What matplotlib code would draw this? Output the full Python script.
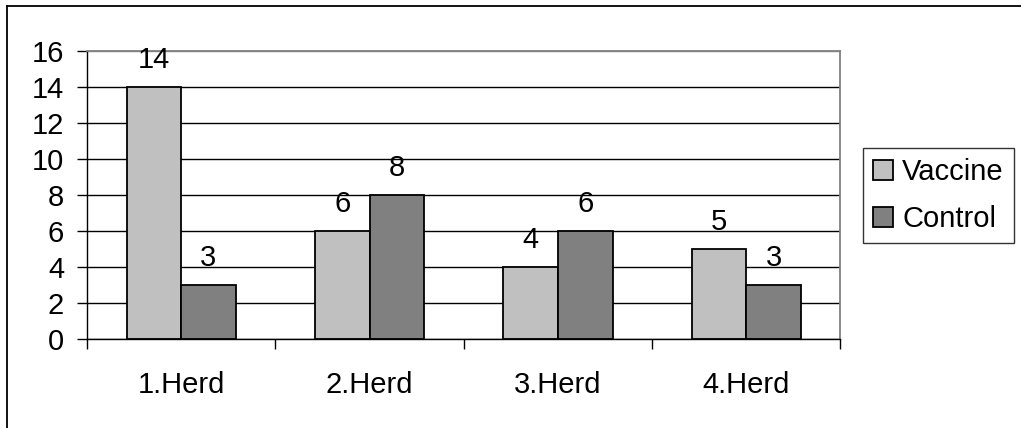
import matplotlib.pyplot as plt
import numpy as np
from matplotlib.lines import Line2D

plt.rcParams["font.family"] = ["Liberation Sans", "DejaVu Sans"]

herds = ["1.Herd", "2.Herd", "3.Herd", "4.Herd"]
vaccine = [14, 6, 4, 5]
control = [3, 8, 6, 3]
y_ticks = [0, 2, 4, 6, 8, 10, 12, 14, 16]

fig = plt.figure(figsize=(10.21, 4.28), dpi=100)
ax = fig.add_axes([0.0852, 0.2079, 0.7380, 0.6729])

x = np.arange(len(herds))
w = 0.29
b1 = ax.bar(x - w / 2, vaccine, w, color="#C0C0C0", edgecolor="black", linewidth=1.3, label="Vaccine")
b2 = ax.bar(x + w / 2, control, w, color="#808080", edgecolor="black", linewidth=1.3, label="Control")

for bars, vals in ((b1, vaccine), (b2, control)):
    for bar, v in zip(bars, vals):
        ax.annotate(str(v), (bar.get_x() + bar.get_width() / 2, v),
                    xytext=(0, 13.5), textcoords="offset points",
                    ha="center", va="baseline", fontsize=21)

ax.set_xlim(-0.5, len(herds) - 0.5)
ax.set_ylim(0, 16)
ax.set_yticks(y_ticks)
ax.set_xticks(x)
ax.set_xticklabels(herds)
ax.set_xticks(np.arange(len(herds) + 1) - 0.5, minor=True)
ax.tick_params(axis="x", which="major", length=0, pad=23, labelsize=21)
ax.tick_params(axis="x", which="minor", length=7.5, width=1, color="black")
ax.tick_params(axis="y", length=7.5, width=1, pad=9, labelsize=21)

ax.set_axisbelow(True)
ax.yaxis.grid(True, color="black", linewidth=1)
ax.get_ygridlines()[-1].set_color("#808080")
ax.spines["top"].set_color("#808080")
ax.spines["right"].set_color("#808080")
ax.spines["top"].set_linewidth(1.3)
ax.spines["right"].set_linewidth(1.3)
ax.spines["left"].set_linewidth(1)
ax.spines["bottom"].set_linewidth(1)

leg = fig.legend(handles=[b1, b2], loc="upper left", bbox_to_anchor=(0.845, 0.654),
                 fontsize=21, frameon=True, fancybox=False, edgecolor="black",
                 handlelength=0.7, handleheight=0.7, handletextpad=0.3,
                 borderpad=0.35, labelspacing=0.65, borderaxespad=0)
leg.get_frame().set_linewidth(1)

# outer chart border (cropped on the right and bottom)
fig.add_artist(Line2D([0.0069, 1.0], [0.986, 0.986], color="black", linewidth=1.3))
fig.add_artist(Line2D([0.0069, 0.0069], [0.0, 0.986], color="black", linewidth=1.3))

fig.savefig("out.png", dpi=100)
